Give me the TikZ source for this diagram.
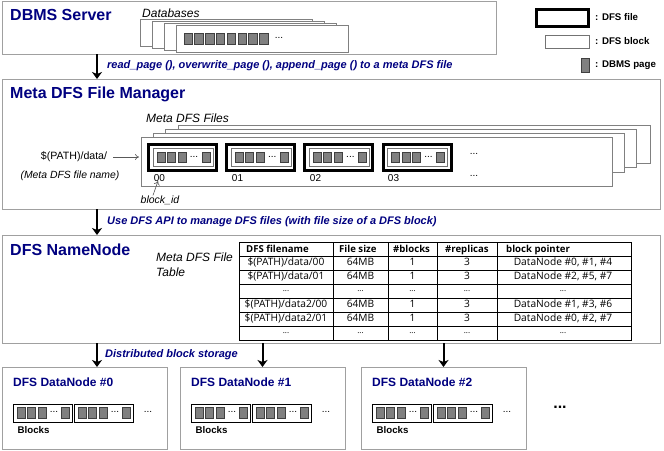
\documentclass[tikz,border=0pt]{standalone}
\usepackage{fontspec}
\setmainfont{Liberation Sans}
\newfontfamily\tablefont{Open Sans}
\usetikzlibrary{arrows.meta}
\definecolor{titleblue}{RGB}{0,0,128}
\definecolor{boxgray}{RGB}{160,160,160}
\tikzset{
    panel/.style={draw=boxgray, line width=1pt, fill=white, anchor=north west, inner sep=0pt, outer sep=0pt},
    stackbox/.style={draw=boxgray!80!black, line width=0.8pt, fill=white},
    dbmspage/.style={draw=black!75, line width=1pt, fill=black!50},
    dfsfile/.style={draw=black, line width=3pt, fill=white},
    dfsblock/.style={draw=black!55, line width=1pt, fill=white},
    nodeblock/.style={draw=black, line width=0.9pt, fill=white},
    flowarrow/.style={-{Stealth[length=7pt,width=10pt,inset=2pt]}, line width=2pt},
    thinarrow/.style={-{To[length=4pt,width=6pt]}, draw=black!65, line width=0.6pt},
    bigtitle/.style={anchor=west, inner sep=0pt, text=titleblue, font=\bfseries\fontsize{16}{18}\selectfont},
    smalltitle/.style={anchor=west, inner sep=0pt, text=titleblue, font=\bfseries\fontsize{12}{14}\selectfont},
    flowlabel/.style={anchor=west, inner sep=0pt, text=titleblue, font=\bfseries\itshape\fontsize{11}{13}\selectfont},
    note/.style={inner sep=0pt, font=\itshape\fontsize{12}{14}\selectfont},
    legendlabel/.style={anchor=west, inner sep=0pt, font=\bfseries\fontsize{9.7}{11}\selectfont},
    plain/.style={inner sep=0pt, font=\fontsize{10.6}{12}\selectfont},
    dotlabel/.style={inner sep=0pt, font=\fontsize{10}{12}\selectfont},
    tablecell/.style={inner sep=0pt, text height=7.5pt, text depth=2.5pt, font=\tablefont\fontsize{10.2}{12}\selectfont},
    tablehead/.style={tablecell, anchor=west, font=\tablefont\bfseries\fontsize{9.6}{11}\selectfont},
}
\newcommand{\skipcell}{\raisebox{2pt}{\fontsize{8}{10}\selectfont ...}}
\newcommand{\pagerow}[4]{%
    \foreach \pageoff in {0,10.5,21,#3} {
        \draw[dbmspage] (#1+\pageoff, #2) rectangle ++(8, 10.5);
    }
    \node[dotlabel] (dots#4) at (#1+37, #2+4.5) {...};
}
\newcommand{\datanode}[2]{%
    \node[panel, minimum width=165pt, minimum height=82pt] (dn#2) at (#1, 367) {};
    \node[smalltitle] (dntitle#2) at (#1+11, 382) {DFS DataNode \##2};
    \draw[nodeblock] (#1+11.5, 404) rectangle ++(59, 18);
    \draw[nodeblock] (#1+72.5, 404) rectangle ++(59, 18);
    \pagerow{#1+15}{407.5}{44}{left#2}
    \pagerow{#1+76}{407.5}{44}{right#2}
    \node[dotlabel] (dnmore#2) at (#1+146, 412) {...};
    \node[legendlabel] (dnblocks#2) at (#1+15.5, 430) {Blocks};
}

\begin{document}
\begin{tikzpicture}[x=1pt, y=-1pt]
            \useasboundingbox (0, 0) rectangle (664, 450);

            \node[panel, minimum width=494pt, minimum height=53pt] (dbms) at (2, 1) {};
            \node[bigtitle] (dbmstitle) at (10, 15) {DBMS Server};
            \node[note, anchor=west] (databases) at (142, 13) {Databases};
            \foreach \i in {0, 1, 2, 3} {
                \draw[stackbox] (140+12*\i, 19.5+2*\i) rectangle ++(172, 26.5);
            }
            \foreach \i in {0, ..., 7} {
                \draw[dbmspage] (184+10.8*\i, 33.5) rectangle ++(8.5, 10.5);
            }
            \node[dotlabel] (dbmsdots) at (279, 38) {...};

            \draw[dfsfile] (536, 9) rectangle (588, 26);
            \draw[dfsblock] (545, 35) rectangle (589, 48);
            \draw[dbmspage] (581, 58.5) rectangle (589.5, 72);
            \node[legendlabel] (legendfile) at (595, 17) {: DFS file};
            \node[legendlabel] (legendblock) at (595, 41) {: DFS block};
            \node[legendlabel] (legendpage) at (595, 65) {: DBMS page};

            \node[panel, minimum width=658pt, minimum height=130pt] (meta) at (2, 79) {};
            \node[bigtitle] (metatitle) at (10, 94) {Meta DFS File Manager};
            \node[note, anchor=west] (metafiles) at (146, 118) {Meta DFS Files};
            \draw[stackbox] (178, 125.5) rectangle (650.5, 163);
            \draw[stackbox] (165, 129.5) rectangle (636.5, 167);
            \draw[stackbox] (153, 133.5) rectangle (624.5, 172);
            \draw[stackbox] (141, 137.5) rectangle (612.5, 186);
            \foreach \x/\label in {0/00, 1/01, 2/02, 3/03} {
                \draw[dfsfile] (148.5+78.2*\x, 144.5) rectangle ++(68, 26);
                \draw[dfsblock] (153+78.2*\x, 148.5) rectangle ++(60, 18);
                \pagerow{157+78.2*\x}{152}{45}{file\x}
                \node[plain, font=\fontsize{10}{12}\selectfont] (id\x) at (159.5+78*\x, 178) {\label};
            }
            \node[dotlabel] (moreupper) at (474, 154) {...};
            \node[dotlabel] (morelower) at (474, 176) {...};
            \node[plain] (pathname) at (74, 157) {\$(PATH)/data/};
            \node[note, font=\itshape\fontsize{10.4}{12}\selectfont] (filename) at (70, 176) {(Meta DFS file name)};
            \node[note, font=\itshape\fontsize{10.5}{12}\selectfont] (blockid) at (160, 200) {block\_id};
            \coordinate (firstfile) at (139, 157);
            \coordinate (firstid) at (158, 181);
            \draw[thinarrow] (pathname.east) ++(6, 0) -- (firstfile);
            \draw[thinarrow] (blockid.north) ++(-7, 0) -- (firstid);

            \node[panel, minimum width=658pt, minimum height=108pt] (name) at (2, 235) {};
            \node[bigtitle] (nametitle) at (10, 250) {DFS NameNode};
            \node[note, anchor=west] (tablenote) at (156, 257) {Meta DFS File};
            \node[note, anchor=west] (tablenotetwo) at (156, 272) {Table};

            \draw[line width=0.9pt] (239, 242) rectangle (631, 340);
            \foreach \y in {256, 270, 284, 298, 312, 326} {
                \draw[line width=0.7pt] (239, \y) -- (631, \y);
            }
            \foreach \x in {333, 388, 437, 497} {
                \draw[line width=0.7pt] (\x, 242) -- (\x, 340);
            }
            \node[tablehead] (headname) at (246, 249.5) {DFS filename};
            \node[tablehead] (headsize) at (339, 249.5) {File size};
            \node[tablehead] (headblocks) at (393, 249.5) {\#blocks};
            \node[tablehead] (headreplicas) at (445, 249.5) {\#replicas};
            \node[tablehead] (headpointer) at (506, 249.5) {block pointer};
            \foreach \y/\fname/\fsize/\fblocks/\freplicas/\fpointer in {
                263/{\$(PATH)/data/00}/64MB/1/3/{DataNode \#0, \#1, \#4},
                277/{\$(PATH)/data/01}/64MB/1/3/{DataNode \#2, \#5, \#7},
                291/\skipcell/\skipcell/\skipcell/\skipcell/\skipcell,
                305/{\$(PATH)/data2/00}/64MB/1/3/{DataNode \#1, \#3, \#6},
                319/{\$(PATH)/data2/01}/64MB/1/3/{DataNode \#0, \#2, \#7},
                333/\skipcell/\skipcell/\skipcell/\skipcell/\skipcell} {
                \node[tablecell] (cellname\y) at (286, \y) {\fname};
                \node[tablecell] (cellsize\y) at (360.5, \y) {\fsize};
                \node[tablecell] (cellblocks\y) at (412.5, \y) {\fblocks};
                \node[tablecell] (cellreplicas\y) at (467, \y) {\freplicas};
                \node[tablecell] (cellpointer\y) at (563, \y) {\fpointer};
            }

            \datanode{2}{0}
            \datanode{180}{1}
            \datanode{361}{2}
            \node[font=\bfseries\fontsize{16}{18}\selectfont, inner sep=0pt] (moredatanodes) at (560, 407) {...};

            \coordinate (flowx) at (97, 0);
            \draw[flowarrow] (dbms.south -| flowx) -- (meta.north -| flowx);
            \draw[flowarrow] (meta.south -| flowx) -- (name.north -| flowx);
            \draw[flowarrow] (name.south -| flowx) -- (dn0.north -| flowx);
            \draw[flowarrow] (name.south -| dn1.north) -- (dn1.north);
            \draw[flowarrow] (name.south -| dn2.north) -- (dn2.north);
            \node[flowlabel] (apilabel) at (107, 66) {read\_page (), overwrite\_page (), append\_page () to a meta DFS file};
            \node[flowlabel] (managelabel) at (107, 222) {Use DFS API to manage DFS files (with file size of a DFS block)};
            \node[flowlabel] (storagelabel) at (105, 355) {Distributed block storage};
        \end{tikzpicture}
\end{document}
